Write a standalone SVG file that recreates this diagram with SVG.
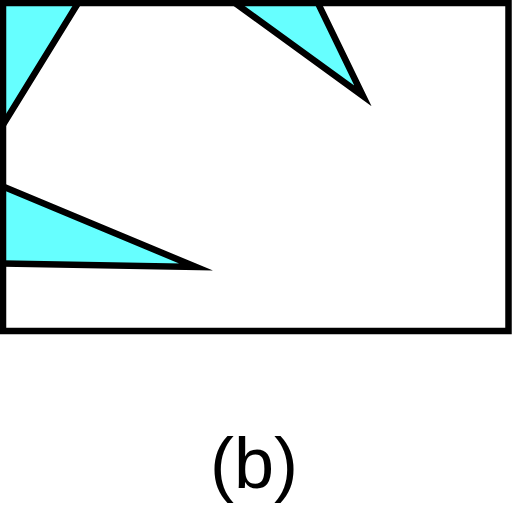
<svg xmlns="http://www.w3.org/2000/svg" width="512" height="512" viewBox="0 0 512 512">
<style>
.tri{fill:#66ffff;stroke:#000;stroke-width:6.5;stroke-linejoin:miter;stroke-miterlimit:10}
.frame{fill:none;stroke:#000;stroke-width:6.5}
.lbl{font-family:"Liberation Sans",Arial,sans-serif;font-size:72px;fill:#000}
</style>
<defs>
<clipPath id="c"><rect x="3" y="3" width="505.5" height="328"/></clipPath>
</defs>
<rect width="512" height="512" fill="#fff"/>
<g id="shapes" clip-path="url(#c)">
<g id="tri1"><polygon class="tri" points="83,-5 -10,146 -60,-5"/></g>
<g id="tri2"><polygon class="tri" points="224,-5 363,96 314,-5"/></g>
<g id="tri3"><polygon class="tri" points="-20,177 196,267 -20,263"/></g>
</g>
<g id="frame"><rect class="frame" x="3" y="3" width="505.5" height="328"/></g>
<g id="label"><text class="lbl" x="254" y="488" text-anchor="middle">(b)</text></g>
</svg>
